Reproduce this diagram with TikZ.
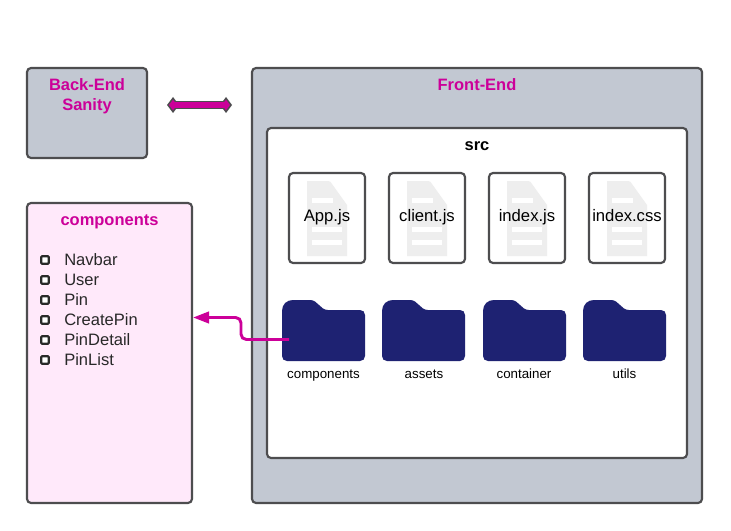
\documentclass[tikz,border=0pt]{standalone}
\usepackage{fontspec}
\setmainfont{Liberation Sans}
\usetikzlibrary{arrows.meta}
\definecolor{edge}{HTML}{4D4D4F}
\definecolor{panel}{HTML}{C2C8D2}
\definecolor{accent}{HTML}{CC0099}
\definecolor{pinkfill}{HTML}{FFE9FA}
\definecolor{navy}{HTML}{1E2272}
\definecolor{ghost}{HTML}{EEEEEE}
\definecolor{ink}{HTML}{282828}
\newcommand{\fz}[1]{\fontsize{#1}{#1}\selectfont}
\tikzset{
  x=0.75pt,y=-0.75pt,
  box/.style={draw=edge,line width=1.6pt,rounded corners=3pt},
  title/.style={text=accent,font=\fz{12.35}\bfseries,anchor=base,inner sep=0pt},
  label/.style={text=black,font=\fz{12.5},anchor=base,inner sep=0pt},
  folderlabel/.style={text=black,font=\fz{10},anchor=base,inner sep=0pt},
  item/.style={text=ink,font=\fz{12.4},anchor=base west,inner sep=0pt},
  bullet/.style={draw=ink,line width=1.6pt,fill=white,rounded corners=0.6pt,minimum size=5.6pt,inner sep=0pt},
  link/.style={draw=accent,line width=2.2pt,rounded corners=4pt},
}
\newcommand{\filecard}[3]{% name, left x, text
  \fill[ghost] (#2+18,181) -- (#2+39,181) .. controls (#2+41,181) and (#2+42,182) .. (#2+43,184) -- (#2+58,205) -- (#2+58,256) -- (#2+18,256) -- cycle;
  \fill[white] (#2+23,198) rectangle (#2+44,203);
  \fill[white] (#2+23,227) rectangle (#2+53,232);
  \fill[white] (#2+23,240) rectangle (#2+53,245);
  \draw[box] (#2,173) rectangle (#2+76,263);
  \node[label] (#1) at (#2+38,221) {#3};}
\newcommand{\folder}[4]{% name, left x, text, label centre x
  \fill[navy] (#2,356) -- (#2,311) .. controls (#2,304) and (#2+5,300) .. (#2+11,300)
    -- (#2+28,300) .. controls (#2+36,300) and (#2+38,310) .. (#2+46,310)
    -- (#2+78,310) .. controls (#2+81,310) and (#2+83,312) .. (#2+83,315)
    -- (#2+83,356) .. controls (#2+83,359) and (#2+81,361) .. (#2+78,361)
    -- (#2+5,361) .. controls (#2+2,361) and (#2,359) .. (#2,356) -- cycle;
  \coordinate (#1) at (#2+41,331);
  \node[folderlabel] (#1label) at (#4,378.7) {#3};}
\begin{document}
\begin{tikzpicture}
\useasboundingbox (0,0) rectangle (731,531);
\fill[white] (0,0) rectangle (731,531);
% panels
\draw[box,fill=panel] (27,68) rectangle (147,158);
\node[title] (back) at (87,90.8) {Back-End};
\node[title] (sanity) at (87,110.8) {Sanity};
\draw[box,fill=panel] (252,68) rectangle (702,503);
\node[title] (front) at (477,90.8) {Front-End};
\draw[box,fill=white] (267,128) rectangle (687,458);
\node[title,text=black] (src) at (477,151) {src};
\draw[box,fill=pinkfill] (27,203) rectangle (192,503);
\node[title] (comp) at (109.5,225.5) {components};
\coordinate (compedge) at (193,317.5);
% list
\foreach \nm/\yy in {Navbar/260,User/280,Pin/300,CreatePin/320,PinDetail/340,PinList/360}{
  \node[bullet] (b\nm) at (45,\yy) {};
  \node[item] (i\nm) at (64,\yy+5) {\nm};
}
% files
\filecard{app}{289}{App.js}
\filecard{client}{389}{client.js}
\filecard{index}{489}{index.js}
\filecard{css}{589}{index.css}
% folders
\folder{fcomp}{282}{components}{323.5}
\folder{fassets}{382}{assets}{424}
\folder{fcont}{483}{container}{524}
\folder{futils}{583}{utils}{624.5}
% connectors
\coordinate (backend) at (167,105);
\coordinate (frontend) at (232,105);
\draw[draw=edge,line width=6.2pt,{Diamond[length=9pt,width=12pt,fill=edge]}-{Diamond[length=9pt,width=12pt,fill=edge]}] (backend) -- (frontend);
\draw[draw=accent,line width=3.8pt,shorten <=1.5pt,shorten >=1.5pt,{Diamond[length=6pt,width=8pt]}-{Diamond[length=6pt,width=8pt]}] (backend) -- (frontend);
\coordinate (linkstart) at (289,339.5);
\draw[link,-{Triangle[length=12pt,width=8.5pt,fill=accent]}] (linkstart) -- (241,339.5) -- (241,317.5) -- (compedge);
\end{tikzpicture}
\end{document}
